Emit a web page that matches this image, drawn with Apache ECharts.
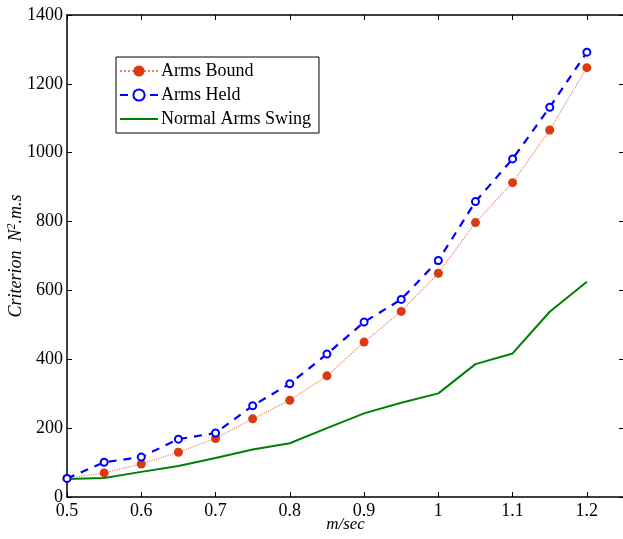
<!DOCTYPE html>
<html>
<head>
<meta charset="utf-8">
<script src="https://cdn.jsdelivr.net/npm/echarts@6/dist/echarts.min.js"></script>
<style>
html,body{margin:0;padding:0;background:#fff;}
#chart{width:623px;height:539px;}
</style>
</head>
<body>
<div id="chart"></div>
<script>
const speeds = [0.5,0.55,0.6,0.65,0.7,0.75,0.8,0.85,0.9,0.95,1.0,1.05,1.1,1.15,1.2];
const armsBound = [54,70,96,130,170,227,281,352,450,539,650,797,913,1066,1247];
const armsHeld = [54,101,116,168,186,265,329,415,508,574,687,858,982,1132,1292];
const normalSwing = [52,55,73,90,113,138,156,200,243,274,301,386,417,538,625];
const xTicks = [0.5,0.6,0.7,0.8,0.9,1,1.1,1.2];
const yTicks = [0,200,400,600,800,1000,1200,1400];

const pair = (ys) => speeds.map((x,i)=>[x, ys[i]]);
const serif = 'Liberation Serif';

const chart = echarts.init(document.getElementById('chart'));
const axisCommon = {
  axisLine:{show:true, onZero:false, lineStyle:{color:'#000', width:1.5}},
  axisTick:{show:true, inside:true, length:5, lineStyle:{color:'#000', width:1}},
  splitLine:{show:false}
};
chart.setOption({
  animation:false,
  backgroundColor:'#fff',
  grid:{left:67, right:-1, top:15, bottom:42, containLabel:false, outerBoundsMode:'none'},
  legend:{
    orient:'vertical', left:116, top:57,
    backgroundColor:'#fff', borderColor:'#000', borderWidth:1,
    padding:[5,8,5,3], itemGap:6, itemWidth:38, itemHeight:14,
    textStyle:{fontFamily:serif, fontSize:18, color:'#000', padding:[0,0,0,-2]},
    data:[
      {name:'Arms Bound'},
      {name:'Arms Held'},
      {name:'Normal Arms Swing', itemStyle:{opacity:0}}
    ]
  },
  xAxis:[
    Object.assign({type:'value', min:0.5, max:1.25, interval:0.1, position:'bottom',
      name:'m/sec', nameLocation:'middle', nameGap:19, nameMoveOverlap:false,
      nameTextStyle:{fontFamily:serif, fontSize:17, fontStyle:'italic', color:'#000'},
      axisLabel:{fontFamily:serif, fontSize:18, color:'#000', margin:5, showMaxLabel:false,
        formatter:(v)=> xTicks.some(t=>Math.abs(t-v)<1e-6) ? String(+v.toFixed(2)) : ''}
    }, axisCommon),
    Object.assign({type:'value', min:0.5, max:1.25, interval:0.1, position:'top',
      axisLabel:{show:false}}, axisCommon)
  ],
  yAxis:[
    Object.assign({type:'value', min:0, max:1400, interval:200, position:'left',
      name:'{i|Criterion  N}{s|2}{i|.m.s}', nameLocation:'middle', nameGap:40, nameMoveOverlap:false,
      nameTextStyle:{rich:{
        i:{fontFamily:serif, fontSize:18, fontStyle:'italic', color:'#000'},
        s:{fontFamily:serif, fontSize:12, fontStyle:'italic', color:'#000', verticalAlign:'top', padding:[0,0,9,0]}
      }},
      axisLabel:{fontFamily:serif, fontSize:18, color:'#000', margin:4,
        formatter:(v)=> yTicks.includes(v) ? String(v) : ''}
    }, axisCommon),
    Object.assign({type:'value', min:0, max:1400, interval:200, position:'right',
      axisLabel:{show:false}}, axisCommon)
  ],
  series:[
    {name:'Arms Bound', type:'line', data:pair(armsBound), symbol:'circle', symbolSize:9,
      itemStyle:{color:'#d93a12'}, lineStyle:{color:'#f0806a', type:'dotted', width:1.2}, z:3},
    {name:'Arms Held', type:'line', data:pair(armsHeld), symbol:'emptyCircle', symbolSize:7,
      itemStyle:{color:'#0000ff', borderColor:'#0000ff', borderWidth:2},
      lineStyle:{color:'#0000ff', type:[8,7], width:2.2}, z:4},
    {name:'Normal Arms Swing', type:'line', data:pair(normalSwing), symbol:'none',
      itemStyle:{color:'#008000'}, lineStyle:{color:'#008000', width:2}, z:2}
  ]
});
</script>
</body>
</html>
